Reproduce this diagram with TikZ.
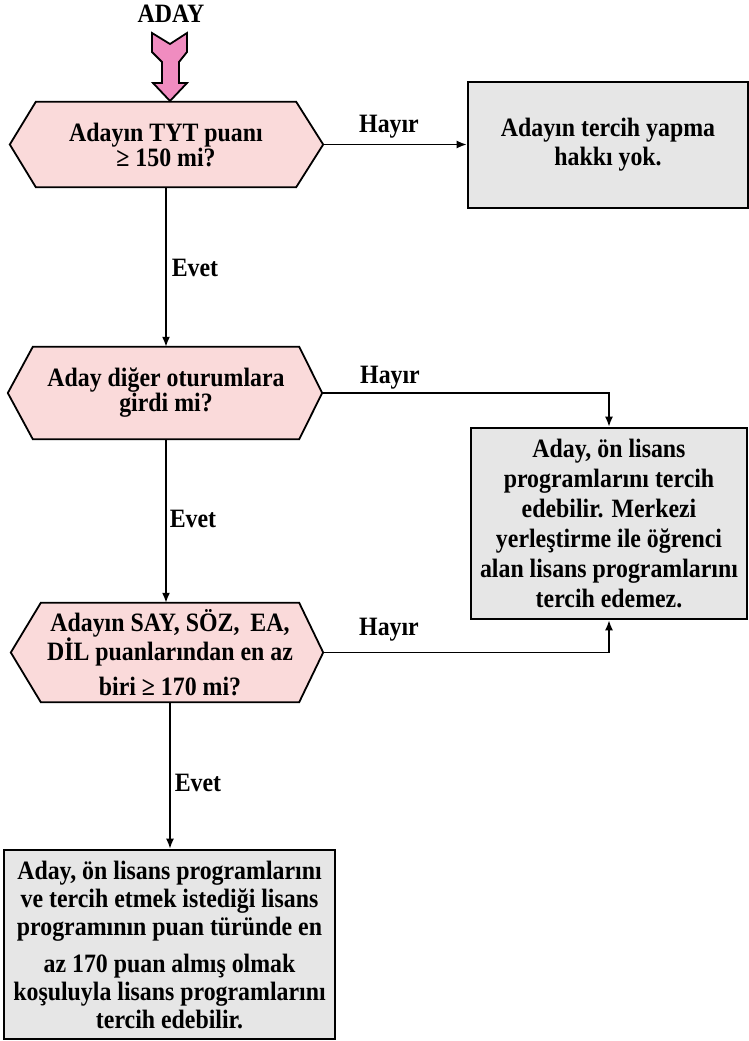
\documentclass[tikz,border=0pt]{standalone}
\usepackage{fontspec}
\setmainfont{Liberation Serif}[FakeStretch=0.9]
\usetikzlibrary{calc,arrows.meta,backgrounds}
\definecolor{hexpink}{RGB}{250,218,218}
\definecolor{arrpink}{RGB}{240,140,192}
\definecolor{boxgray}{RGB}{230,230,230}
\begin{document}
\begin{tikzpicture}[x=1pt,y=-1pt,
  every node/.style={font=\fontsize{26.5}{29}\selectfont\bfseries},
  hexnode/.style={inner sep=0pt, align=center},
  hexline/.style={draw=black, fill=hexpink, line width=1.8pt, line join=miter},
  boxnode/.style={draw=black, fill=boxgray, line width=2.6pt, align=center, inner sep=0pt},
  conn/.style={line width=1.7pt, -{Latex[length=10pt,width=8pt]}},
  lbl/.style={inner sep=0pt}]
\useasboundingbox (0,0) rectangle (749,1041);

% start marker
\node[lbl] (aday) at (171,14) {ADAY};
\draw[fill=arrpink, line width=1.8pt, line join=miter]
  (152,33) -- (170,44) -- (187,33) -- (187,52) -- (179,62) -- (179,83) -- (187,83)
  -- (170,101) -- (153,83) -- (162,83) -- (162,62) -- (152,52) -- cycle;

% decisions
\node[hexnode, minimum width=260pt, minimum height=85pt, font=\fontsize{26.5}{25}\selectfont\bfseries]
  (h1) at (166,144.5) {Adayın TYT puanı\\≥ 150 mi?};
\coordinate (h1l) at ($(h1.west)+(-26,0)$);
\coordinate (h1r) at ($(h1.east)+(27,0)$);

\node[hexnode, minimum width=266pt, minimum height=92pt, font=\fontsize{26.5}{25}\selectfont\bfseries]
  (h2) at (166,393) {Aday diğer oturumlara\\girdi mi?};
\coordinate (h2l) at ($(h2.west)+(-25,0)$);
\coordinate (h2r) at ($(h2.east)+(23,0)$);

\node[hexnode, minimum width=258pt, minimum height=99pt]
  (h3) at (170,652.5) {Adayın SAY, SÖZ,\hspace{5pt} EA,\\DİL puanlarından en az\\[6pt]biri ≥ 170 mi?};
\coordinate (h3l) at ($(h3.west)+(-30,0)$);
\coordinate (h3r) at ($(h3.east)+(24,0)$);

\begin{scope}[on background layer]
  \draw[hexline] (h1.north west) -- (h1.north east) -- (h1r) -- (h1.south east) -- (h1.south west) -- (h1l) -- cycle;
  \draw[hexline] (h2.north west) -- (h2.north east) -- (h2r) -- (h2.south east) -- (h2.south west) -- (h2l) -- cycle;
  \draw[hexline] (h3.north west) -- (h3.north east) -- (h3r) -- (h3.south east) -- (h3.south west) -- (h3l) -- cycle;
\end{scope}

% outcome boxes
\node[boxnode, minimum width=280pt, minimum height=126pt] (b1) at (608,145)
  {Adayın tercih yapma\\hakkı yok.};
\node[boxnode, minimum width=276pt, minimum height=191pt,
  font=\fontsize{26.5}{30}\selectfont\bfseries] (b2) at (609,523.5)
  {Aday, ön lisans\\programlarını tercih\\edebilir. Merkezi\\yerleştirme ile öğrenci\\alan lisans programlarını\\tercih edemez.};
\node[boxnode, minimum width=331pt, minimum height=189pt,
  font=\fontsize{26.5}{28}\selectfont\bfseries] (b3) at (169.5,944.5)
  {Aday, ön lisans programlarını\\ve tercih etmek istediği lisans\\programının puan türünde en\\[9pt]az 170 puan almış olmak\\koşuluyla lisans programlarını\\tercih edebilir.};

% connectors
\draw[conn] (h1r) -- (h1r -| b1.west);
\draw[conn] (h1.south) -- (h1.south |- h2.north);
\draw[conn] (h2r) -| (b2.north);
\draw[conn] (h2.south) -- (h2.south |- h3.north);
\draw[conn] (h3r) -| (b2.south);
\draw[conn] (h3.south) -- (h3.south |- b3.north);

% labels
\node[lbl] (hy1) at (389,127) {Hayır};
\node[lbl] (hy2) at (390,378) {Hayır};
\node[lbl] (hy3) at (389,630) {Hayır};
\node[lbl] (ev1) at (195,268) {Evet};
\node[lbl] (ev2) at (193,519) {Evet};
\node[lbl] (ev3) at (198,783) {Evet};
\end{tikzpicture}
\end{document}
